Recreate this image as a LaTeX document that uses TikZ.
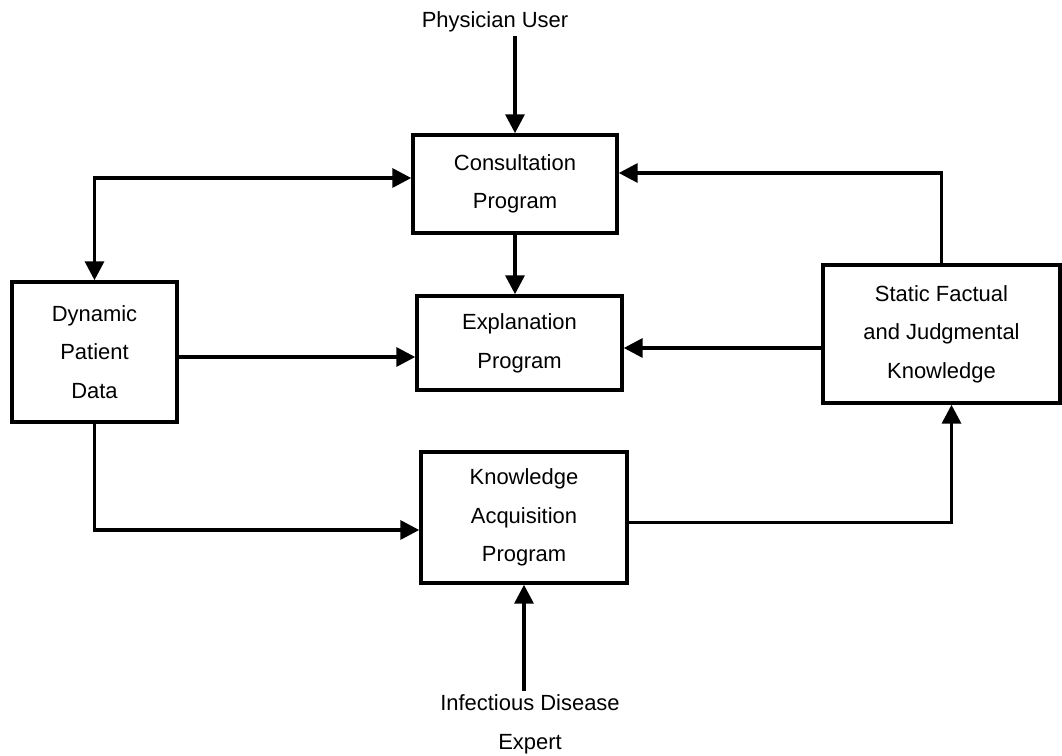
\documentclass[tikz,border=0pt]{standalone}
\usepackage{fontspec}
\setmainfont{Liberation Sans}
\usepackage{tikz}
\usetikzlibrary{arrows.meta,positioning,calc}

\begin{document}
\begin{tikzpicture}[
    x=0.02cm, y=0.02cm,
    >={Triangle[length=3.8mm,width=3.8mm]},
    font=\fontsize{12.5}{22}\selectfont,
    block/.style={rectangle, draw=black, line width=2pt, align=center,
                  inner sep=3pt},
    txt/.style={align=center, inner sep=2pt},
    arr/.style={->, line width=2pt},
  ]
    \useasboundingbox (0,0) rectangle (1062,-756);

    % blocks
    \node[block, minimum width=4.08cm, minimum height=1.96cm] (cons) at (515,-184)
        {Consultation\\Program};
    \node[block, minimum width=4.10cm, minimum height=1.88cm] (expl) at (519.5,-343)
        {Explanation\\Program};
    \node[block, minimum width=4.12cm, minimum height=2.62cm] (kacq) at (524,-517.5)
        {Knowledge\\Acquisition\\Program};
    \node[block, minimum width=3.30cm, minimum height=2.80cm] (dpd) at (94.5,-352)
        {Dynamic\\Patient\\Data};
    \node[block, minimum width=4.74cm, minimum height=2.76cm] (sfk) at (941.5,-334)
        {Static Factual\\and Judgmental\\Knowledge};

    % outside people
    \node[txt] (phys) at (495,-22) {Physician User};
    \node[txt] (expert) at (530,-724) {Infectious Disease\\Expert};

    \coordinate (dpdout) at ([yshift=-1mm]dpd.east);
    \coordinate (sfkout) at ([yshift=-2.8mm]sfk.west);

    \draw[arr] (cons.north |- phys.south) -- (cons.north);
    \draw[arr, <->] (dpd.north) |- ([yshift=1.2mm]cons.west);
    \draw[arr] (sfk.north) |- ([yshift=2.2mm]cons.east);
    \draw[arr] (cons.south) -- (cons.south |- expl.north);
    \draw[arr] (dpdout) -- (dpdout -| expl.west);
    \draw[arr] (sfkout) -- (sfkout -| expl.east);
    \draw[arr] (dpd.south) |- ([yshift=-2.5mm]kacq.west);
    \draw[arr] ([yshift=-1mm]kacq.east) -| ([xshift=2mm]sfk.south);
    \draw[arr] (kacq.south |- expert.north) -- (kacq.south);
  \end{tikzpicture}
\end{document}
